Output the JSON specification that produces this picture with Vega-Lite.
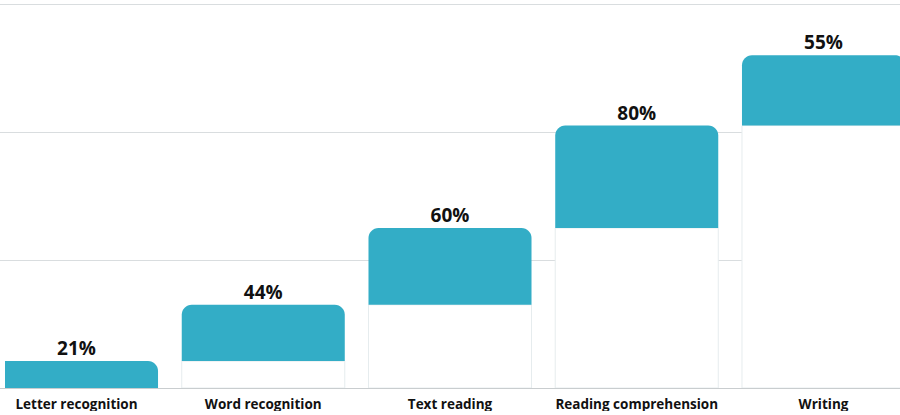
{
  "$schema": "https://vega.github.io/schema/vega-lite/v6.json",
  "width": 895,
  "height": 384,
  "padding": {"left": 5, "top": 4, "right": 0, "bottom": 0},
  "background": "white",
  "config": {"view": {"stroke": null}},
  "data": {
    "values": [
      {"stage": "Letter recognition", "start": 0, "end": 21, "label": "21%"},
      {"stage": "Word recognition", "start": 21, "end": 65, "label": "44%"},
      {"stage": "Text reading", "start": 65, "end": 125, "label": "60%"},
      {"stage": "Reading comprehension", "start": 125, "end": 205, "label": "80%"},
      {"stage": "Writing", "start": 205, "end": 260, "label": "55%"}
    ]
  },
  "encoding": {
    "x": {
      "field": "stage",
      "type": "nominal",
      "sort": null,
      "scale": {"range": [-10, 900], "paddingInner": 0.127, "paddingOuter": 0},
      "axis": {
        "title": null,
        "labelAngle": 0,
        "ticks": false,
        "domain": true,
        "domainColor": "#c9cdcf",
        "domainWidth": 1,
        "labelFont": "Open Sans",
        "labelFontWeight": "bold",
        "labelFontSize": 13.5,
        "labelColor": "#111111",
        "labelPadding": 9,
        "labelBound": false,
        "labelOverlap": false
      }
    }
  },
  "layer": [
    {
      "mark": {"type": "bar", "color": "white", "stroke": "#e6ecee", "strokeWidth": 1, "clip": true},
      "encoding": {
        "y": {
          "field": "start",
          "type": "quantitative",
          "scale": {"domain": [0, 300], "nice": false},
          "axis": {
            "title": null,
            "labels": false,
            "ticks": false,
            "domain": false,
            "values": [0, 100, 200, 300],
            "gridColor": "#d9dddf",
            "gridWidth": 1
          }
        },
        "y2": {"datum": 0}
      }
    },
    {
      "mark": {"type": "bar", "color": "#33adc6", "cornerRadiusTopLeft": 10, "cornerRadiusTopRight": 10, "clip": true},
      "encoding": {
        "y": {"field": "end", "type": "quantitative"},
        "y2": {"field": "start"}
      }
    },
    {
      "mark": {"type": "text", "font": "Open Sans", "fontWeight": "bold", "fontSize": 19, "color": "#111111", "baseline": "alphabetic", "dy": -6},
      "encoding": {
        "y": {"field": "end", "type": "quantitative"},
        "text": {"field": "label"}
      }
    }
  ]
}
